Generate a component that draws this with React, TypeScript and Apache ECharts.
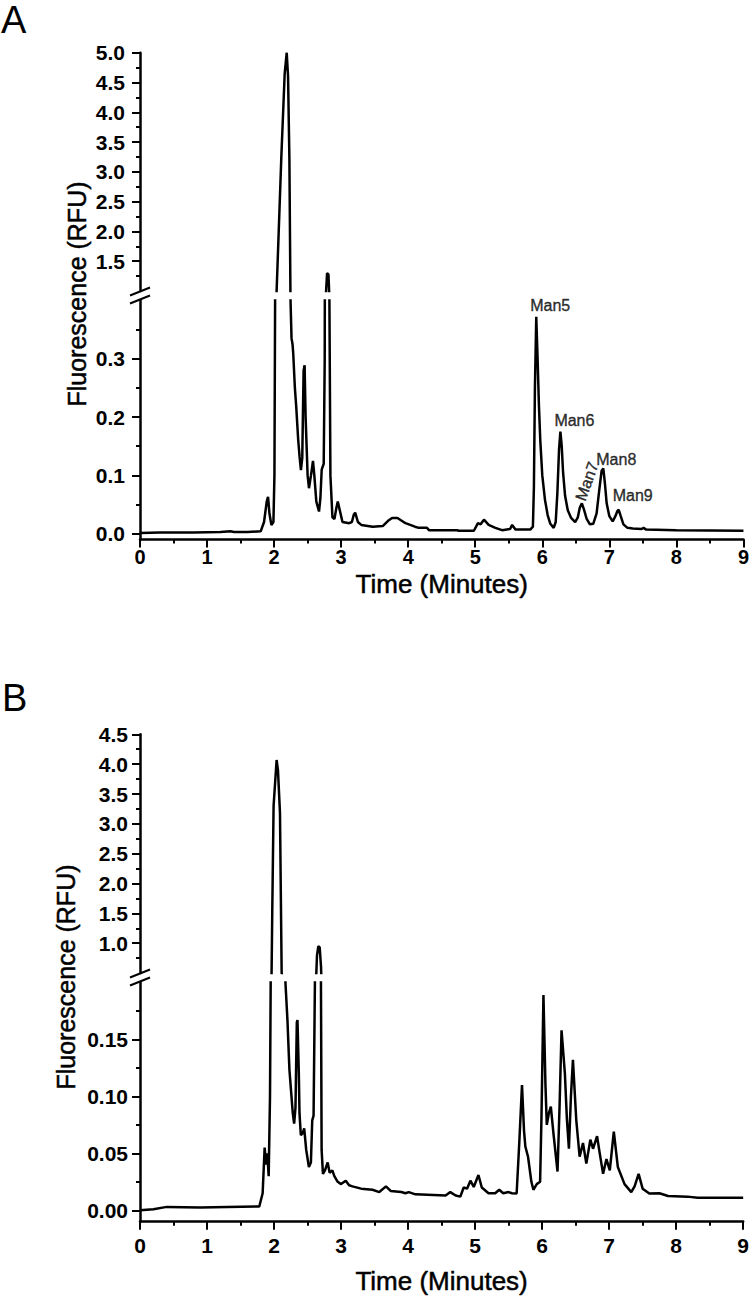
import React, { useEffect, useRef } from "react";
import * as echarts from "echarts";

// Panel A chromatogram: [retention time (min), fluorescence (RFU)]
const traceA: [number, number][] = [
  [0.0, 0.001], [0.3, 0.002], [0.8, 0.002], [1.2, 0.003], [1.35, 0.004], [1.4, 0.003],
  [1.6, 0.003], [1.8, 0.004], [1.85, 0.02], [1.89, 0.055], [1.91, 0.063], [1.93, 0.035],
  [1.96, 0.015], [1.99, 0.02], [2.005, 0.1], [2.015, 0.4], [2.03, 1.0], [2.1, 3.25],
  [2.15, 4.65], [2.18, 5.0], [2.2, 4.6], [2.22, 3.2], [2.235, 1.0], [2.245, 0.4],
  [2.26, 0.335], [2.275, 0.325], [2.285, 0.31], [2.31, 0.25], [2.33, 0.218], [2.36, 0.16],
  [2.38, 0.132], [2.4, 0.109], [2.42, 0.13], [2.44, 0.28], [2.455, 0.289], [2.47, 0.2],
  [2.5, 0.1], [2.52, 0.078], [2.55, 0.1], [2.58, 0.125], [2.6, 0.1], [2.63, 0.055],
  [2.67, 0.038], [2.69, 0.06], [2.71, 0.11], [2.74, 0.12], [2.755, 0.3], [2.765, 1.0],
  [2.78, 1.3], [2.8, 1.28], [2.81, 1.0], [2.825, 0.4], [2.84, 0.1], [2.87, 0.028],
  [2.9, 0.025], [2.93, 0.045], [2.95, 0.055], [2.98, 0.04], [3.02, 0.02], [3.12, 0.018],
  [3.16, 0.02], [3.19, 0.033], [3.21, 0.036], [3.25, 0.02], [3.3, 0.015], [3.47, 0.012],
  [3.62, 0.013], [3.7, 0.022], [3.76, 0.027], [3.84, 0.027], [3.96, 0.018], [4.1, 0.012],
  [4.16, 0.01], [4.28, 0.01], [4.31, 0.006], [4.73, 0.006], [4.75, 0.005], [4.98, 0.005],
  [5.04, 0.018], [5.08, 0.016], [5.13, 0.024], [5.2, 0.015], [5.3, 0.01], [5.4, 0.006],
  [5.52, 0.008], [5.55, 0.015], [5.6, 0.007], [5.82, 0.007], [5.86, 0.012], [5.875, 0.08],
  [5.89, 0.25], [5.91, 0.372], [5.93, 0.3], [5.95, 0.22], [5.97, 0.16], [6.0, 0.1],
  [6.04, 0.058], [6.08, 0.032], [6.12, 0.017], [6.17, 0.01], [6.2, 0.02], [6.225, 0.07],
  [6.25, 0.145], [6.27, 0.175], [6.29, 0.15], [6.31, 0.105], [6.34, 0.065], [6.38, 0.04],
  [6.43, 0.027], [6.49, 0.02], [6.53, 0.028], [6.56, 0.045], [6.59, 0.052], [6.62, 0.042],
  [6.66, 0.026], [6.71, 0.016], [6.76, 0.017], [6.81, 0.035], [6.85, 0.075], [6.885, 0.108],
  [6.91, 0.112], [6.935, 0.085], [6.96, 0.052], [7.0, 0.03], [7.05, 0.021], [7.09, 0.03],
  [7.12, 0.039], [7.14, 0.041], [7.17, 0.03], [7.21, 0.016], [7.27, 0.01], [7.35, 0.009],
  [7.48, 0.008], [7.51, 0.01], [7.55, 0.007], [8.0, 0.006], [9.0, 0.005],
];

// Panel B chromatogram
const traceB: [number, number][] = [
  [0.0, 0.0], [0.2, 0.001], [0.4, 0.003], [0.9, 0.0025], [1.3, 0.003], [1.78, 0.0033],
  [1.83, 0.015], [1.86, 0.055], [1.88, 0.04], [1.9, 0.05], [1.92, 0.03], [1.94, 0.1],
  [1.95, 0.2], [1.955, 0.5], [1.965, 1.5], [1.985, 3.3], [2.03, 4.07], [2.05, 3.9],
  [2.08, 3.18], [2.105, 0.5], [2.17, 0.2], [2.2, 0.167], [2.23, 0.123], [2.28, 0.085],
  [2.3, 0.076], [2.32, 0.09], [2.34, 0.165], [2.35, 0.167], [2.37, 0.12], [2.38, 0.085],
  [2.4, 0.066], [2.43, 0.068], [2.45, 0.072], [2.48, 0.053], [2.52, 0.038], [2.55, 0.042],
  [2.57, 0.079], [2.59, 0.083], [2.61, 0.2], [2.63, 0.8], [2.65, 0.95], [2.67, 0.93],
  [2.69, 0.6], [2.7, 0.2], [2.71, 0.053], [2.73, 0.032], [2.76, 0.035], [2.8, 0.042],
  [2.83, 0.033], [2.87, 0.035], [2.9, 0.03], [2.95, 0.025], [3.0, 0.023], [3.07, 0.026],
  [3.12, 0.022], [3.17, 0.021], [3.3, 0.019], [3.47, 0.018], [3.57, 0.016], [3.67, 0.021],
  [3.74, 0.017], [3.9, 0.016], [3.96, 0.015], [4.01, 0.016], [4.11, 0.014], [4.56, 0.013],
  [4.63, 0.016], [4.71, 0.013], [4.78, 0.012], [4.83, 0.02], [4.88, 0.019], [4.93, 0.026],
  [4.98, 0.0205], [5.05, 0.031], [5.1, 0.02], [5.2, 0.015], [5.3, 0.015], [5.36, 0.018],
  [5.42, 0.015], [5.5, 0.016], [5.55, 0.015], [5.62, 0.0147], [5.66, 0.06], [5.7, 0.11],
  [5.73, 0.07], [5.75, 0.056], [5.79, 0.047], [5.84, 0.025], [5.87, 0.018], [5.92, 0.023],
  [5.97, 0.025], [5.99, 0.08], [6.02, 0.189], [6.05, 0.11], [6.07, 0.075], [6.1, 0.085],
  [6.13, 0.091], [6.17, 0.067], [6.23, 0.034], [6.26, 0.09], [6.29, 0.158], [6.34, 0.12],
  [6.37, 0.08], [6.4, 0.054], [6.43, 0.1], [6.46, 0.132], [6.51, 0.079], [6.56, 0.047],
  [6.61, 0.059], [6.66, 0.041], [6.72, 0.062], [6.76, 0.054], [6.82, 0.065], [6.86, 0.05],
  [6.91, 0.032], [6.96, 0.045], [7.01, 0.035], [7.07, 0.069], [7.13, 0.038], [7.23, 0.023],
  [7.33, 0.016], [7.38, 0.021], [7.44, 0.032], [7.5, 0.019], [7.6, 0.0147], [7.75, 0.015],
  [7.88, 0.0126], [8.17, 0.012], [8.32, 0.011], [9.0, 0.011],
];

// Annotated high-mannose glycan peaks in panel A
const glycanNames = ["Man5", "Man6", "Man7", "Man8", "Man9"];
const glycanTimes = [5.91, 6.27, 6.59, 6.91, 7.14];
const glycanPeaks = [0.372, 0.175, 0.052, 0.112, 0.041];

// Axis tick values
const upperMajorA = [1.5, 2.0, 2.5, 3.0, 3.5, 4.0, 4.5, 5.0];
const upperMinorA = [1.25, 1.75, 2.25, 2.75, 3.25, 3.75, 4.25, 4.75];
const lowerMajorA = [0, 0.1, 0.2, 0.3];
const lowerMinorA = [0.05, 0.15, 0.25, 0.35];
const upperMajorB = [1.0, 1.5, 2.0, 2.5, 3.0, 3.5, 4.0, 4.5];
const upperMinorB = [0.75, 1.25, 1.75, 2.25, 2.75, 3.25, 3.75, 4.25];
const lowerMajorB = [0, 0.05, 0.1, 0.15];
const lowerMinorB = [0.025, 0.075, 0.125, 0.175];

const FONT = '"Liberation Sans", Arial, Helvetica, sans-serif';
const INK = "#000";
const AXIS_W = 2.5;

// label placement relative to each peak apex (px, in the label's own rotated frame)
const glycanLabelLayout: [number, number, number][] = [
  [14, -11, 0],
  [14, -11, 0],
  [22.4, -2.8, 70],
  [13, -9, 0],
  [14, -14, 0],
];

function yAxisPair(
  gridIndex: number,
  min: number,
  max: number,
  major: number[],
  minor: number[],
  decimals: number,
  margin: number
) {
  return [
    {
      type: "value",
      gridIndex,
      min,
      max,
      position: "left",
      axisLine: { show: true, onZero: false, lineStyle: { color: INK, width: AXIS_W } },
      axisTick: {
        show: true,
        inside: false,
        length: 8,
        customValues: major,
        lineStyle: { color: INK, width: 2 },
      },
      axisLabel: {
        show: true,
        customValues: major,
        formatter: (v: number) => v.toFixed(decimals),
        margin,
        color: INK,
        fontFamily: FONT,
        fontWeight: "bold",
        fontSize: 21,
      },
      splitLine: { show: false },
    },
    {
      type: "value",
      gridIndex,
      min,
      max,
      position: "left",
      axisLine: { show: false, onZero: false },
      axisTick: {
        show: true,
        inside: false,
        length: 4,
        customValues: minor,
        lineStyle: { color: INK, width: 2 },
      },
      axisLabel: { show: false },
      splitLine: { show: false },
    },
  ];
}

function timeAxis(
  gridIndex: number,
  visible: boolean,
  labelSize: number,
  labelMargin: number,
  nameGap: number
) {
  if (!visible) {
    return { type: "value", gridIndex, min: 0, max: 9, interval: 1, show: false };
  }
  return {
    type: "value",
    gridIndex,
    min: 0,
    max: 9,
    interval: 1,
    position: "bottom",
    name: "Time (Minutes)",
    nameLocation: "middle",
    nameGap,
    nameMoveOverlap: false,
    nameTextStyle: {
      color: INK,
      fontFamily: FONT,
      fontSize: 26,
      textBorderColor: INK,
      textBorderWidth: 0.5,
    },
    axisLine: { show: true, onZero: false, lineStyle: { color: INK, width: AXIS_W } },
    axisTick: { show: true, inside: false, length: 8, lineStyle: { color: INK, width: 2 } },
    minorTick: { show: true, splitNumber: 2, length: 4, lineStyle: { color: INK, width: 2 } },
    axisLabel: {
      color: INK,
      fontFamily: FONT,
      fontWeight: "bold",
      fontSize: labelSize,
      margin: labelMargin,
    },
    splitLine: { show: false },
    minorSplitLine: { show: false },
  };
}

function trace(data: [number, number][], xAxisIndex: number, yAxisIndex: number) {
  return {
    type: "line",
    xAxisIndex,
    yAxisIndex,
    data,
    symbol: "none",
    showSymbol: false,
    clip: true,
    silent: true,
    lineStyle: { color: INK, width: 2.5 },
  };
}

function breakMark(x: number, y: number) {
  // pair of slanted strokes across the y-axis gap
  const seg = (dy: number) => ({
    type: "line",
    shape: { x1: x - 10, y1: y + dy + 4, x2: x + 10, y2: y + dy - 4 },
    style: { stroke: INK, lineWidth: 2 },
  });
  return [seg(-4), seg(4)];
}

function yTitle(x: number, y: number) {
  return {
    type: "text",
    x,
    y,
    rotation: Math.PI / 2,
    style: {
      text: "Fluorescence (RFU)",
      fill: INK,
      stroke: INK,
      lineWidth: 0.5,
      font: `25px ${FONT}`,
      align: "center",
      verticalAlign: "middle",
    },
  };
}

export default function App() {
  const ref = useRef<HTMLDivElement>(null);

  useEffect(() => {
    if (!ref.current) return;
    const chart = echarts.init(ref.current, undefined, { renderer: "svg" });

    const labelPoints = glycanNames.map((name, i) => {
      const [dx, dy, rot] = glycanLabelLayout[i];
      return {
        name,
        value: [glycanTimes[i], glycanPeaks[i]],
        label: { offset: [dx, dy], rotate: rot },
      };
    });

    chart.setOption({
      animation: false,
      backgroundColor: "#fff",
      grid: [
        { left: 140, top: 52.7, width: 605.7, height: 238.3 },
        { left: 140, top: 300.5, width: 605.7, height: 239 },
        { left: 140, top: 734.3, width: 605.7, height: 238.8 },
        { left: 140, top: 982.4, width: 605.7, height: 239.3 },
      ],
      xAxis: [
        timeAxis(0, false, 0, 0, 0),
        timeAxis(1, true, 20, 7, 31),
        timeAxis(2, false, 0, 0, 0),
        timeAxis(3, true, 21, 13, 46),
      ],
      yAxis: [
        ...yAxisPair(0, 1.0, 5.0, upperMajorA, upperMinorA, 1, 15),
        ...yAxisPair(1, -0.01, 0.4, lowerMajorA, lowerMinorA, 1, 15),
        ...yAxisPair(2, 0.5, 4.5, upperMajorB, upperMinorB, 1, 12),
        ...yAxisPair(3, -0.01, 0.2, lowerMajorB, lowerMinorB, 2, 12),
      ],
      series: [
        trace(traceA, 0, 0),
        trace(traceA, 1, 2),
        trace(traceB, 2, 4),
        trace(traceB, 3, 6),
        {
          type: "scatter",
          xAxisIndex: 1,
          yAxisIndex: 2,
          symbolSize: 0,
          silent: true,
          data: labelPoints,
          label: {
            show: true,
            position: "inside",
            align: "center",
            verticalAlign: "middle",
            formatter: (p: any) => p.name,
            color: INK,
            fontFamily: FONT,
            fontSize: 16,
            textBorderColor: INK,
            textBorderWidth: 0.4,
          },
        },
      ],
      graphic: [
        {
          type: "text",
          left: 1,
          top: 1,
          style: { text: "A", fill: INK, font: `38px ${FONT}` },
        },
        {
          type: "text",
          left: 2,
          top: 679,
          style: { text: "B", fill: INK, font: `38px ${FONT}` },
        },
        yTitle(77, 294),
        yTitle(66, 977),
        ...breakMark(140, 295.5),
        ...breakMark(140, 977.5),
      ],
    });

    return () => chart.dispose();
  }, []);

  return (
    <div
      ref={ref}
      style={{ position: "absolute", left: 0, top: 0, width: 752, height: 1298 }}
    />
  );
}
